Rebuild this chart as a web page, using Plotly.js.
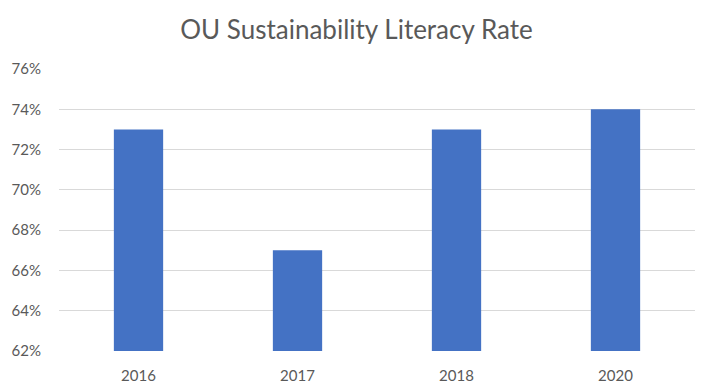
<!DOCTYPE html>
<html>
<head>
<meta charset="utf-8">
<script src="https://cdn.plot.ly/plotly-3.0.1.min.js"></script>
<style>html,body{margin:0;padding:0;background:#fff;}#chart{width:713px;height:392px;}</style>
</head>
<body>
<div id="chart"></div>
<script>
const years = ["2016", "2017", "2018", "2020"];
const literacyRate = [73, 67, 73, 74];
const yTicks = [62, 64, 66, 68, 70, 72, 74, 76];

const trace = {
  type: "bar",
  x: years,
  y: literacyRate,
  marker: {color: "#4472C4"},
  width: 0.31,
  hoverinfo: "x+y"
};

const layout = {
  width: 713,
  height: 392,
  margin: {l: 59, r: 18, t: 69, b: 41},
  paper_bgcolor: "#ffffff",
  plot_bgcolor: "#ffffff",
  font: {family: "Lato, 'Open Sans', sans-serif", color: "#595959"},
  title: {
    text: "OU Sustainability Literacy Rate",
    font: {family: "Lato, 'Open Sans', sans-serif", size: 26, color: "#595959"},
    x: 0.5, xanchor: "center", y: 0.925, yanchor: "middle"
  },
  xaxis: {
    type: "category",
    tickfont: {size: 15, color: "#595959"},
    showgrid: false,
    showline: false,
    ticks: "",
    ticklen: 0,
    ticklabelstandoff: 14
  },
  yaxis: {
    range: [62, 76],
    tickvals: yTicks,
    ticktext: yTicks.map(v => v + "%"),
    tickfont: {size: 15, color: "#595959"},
    showgrid: true,
    gridcolor: "#d9d9d9",
    gridwidth: 1,
    zeroline: false,
    showline: false,
    ticks: "",
    ticklabelstandoff: 17
  },
  showlegend: false,
  bargap: 0.69
};

Plotly.newPlot("chart", [trace], layout, {displayModeBar: false, staticPlot: true});
</script>
</body>
</html>
